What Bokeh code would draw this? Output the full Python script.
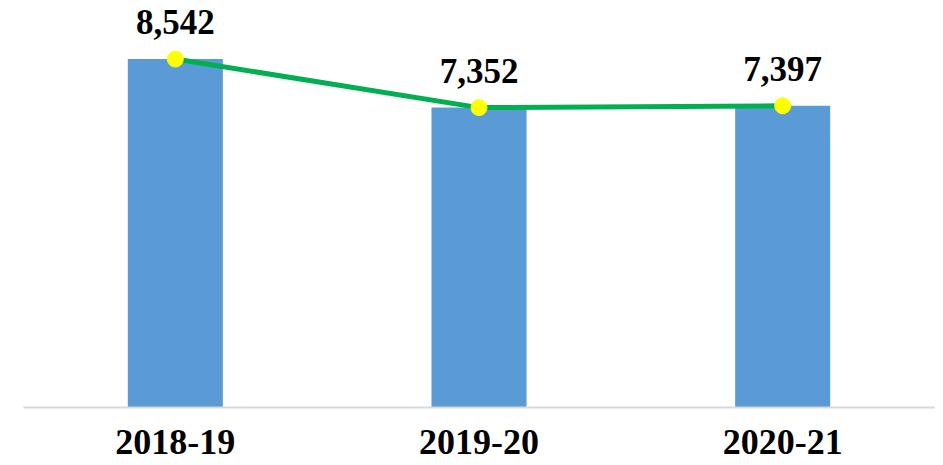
from bokeh.plotting import figure
from bokeh.models import ColumnDataSource, LabelSet, FixedTicker
from bokeh.embed import file_html
from bokeh.resources import INLINE

years = ["2018-19", "2019-20", "2020-21"]
values = [8542, 7352, 7397]
value_labels = ["8,542", "7,352", "7,397"]

xs = list(range(len(years)))
src = ColumnDataSource(dict(x=xs, v=values, lab=value_labels))

p = figure(width=943, height=465, output_backend="svg", toolbar_location=None,
           x_range=(-0.5, 2.5), y_range=(0, 9782),
           min_border_left=23, min_border_right=9, min_border_top=8, min_border_bottom=58)
p.outline_line_color = None
p.grid.visible = False
p.background_fill_color = "white"
p.border_fill_color = "white"

p.vbar(x="x", top="v", width=0.313, bottom=0, source=src, fill_color="#5b9bd5", line_color=None)
p.line(x="x", y="v", source=src, line_color="#00b050", line_width=5)
p.scatter(x="x", y="v", source=src, size=16, fill_color="#ffff00", line_color="#ffff00")

labels = LabelSet(x="x", y="v", text="lab", source=src, y_offset=25, text_align="center",
                  text_baseline="alphabetic", text_font="Liberation Serif", text_font_style="bold",
                  text_font_size="35px", text_color="black")
p.add_layout(labels)

p.yaxis.visible = False
ax = p.xaxis[0]
ax.ticker = FixedTicker(ticks=xs)
ax.major_label_overrides = {i: y for i, y in zip(xs, years)}
ax.axis_line_color = "#d9d9d9"
ax.axis_line_width = 2
ax.major_tick_line_color = None
ax.minor_tick_line_color = None
ax.major_tick_in = 0
ax.major_tick_out = 0
ax.major_label_standoff = 22
ax.major_label_text_font = "Liberation Serif"
ax.major_label_text_font_style = "bold"
ax.major_label_text_font_size = "36px"
ax.major_label_text_color = "black"

open("out.html", "w").write(file_html(p, INLINE))
